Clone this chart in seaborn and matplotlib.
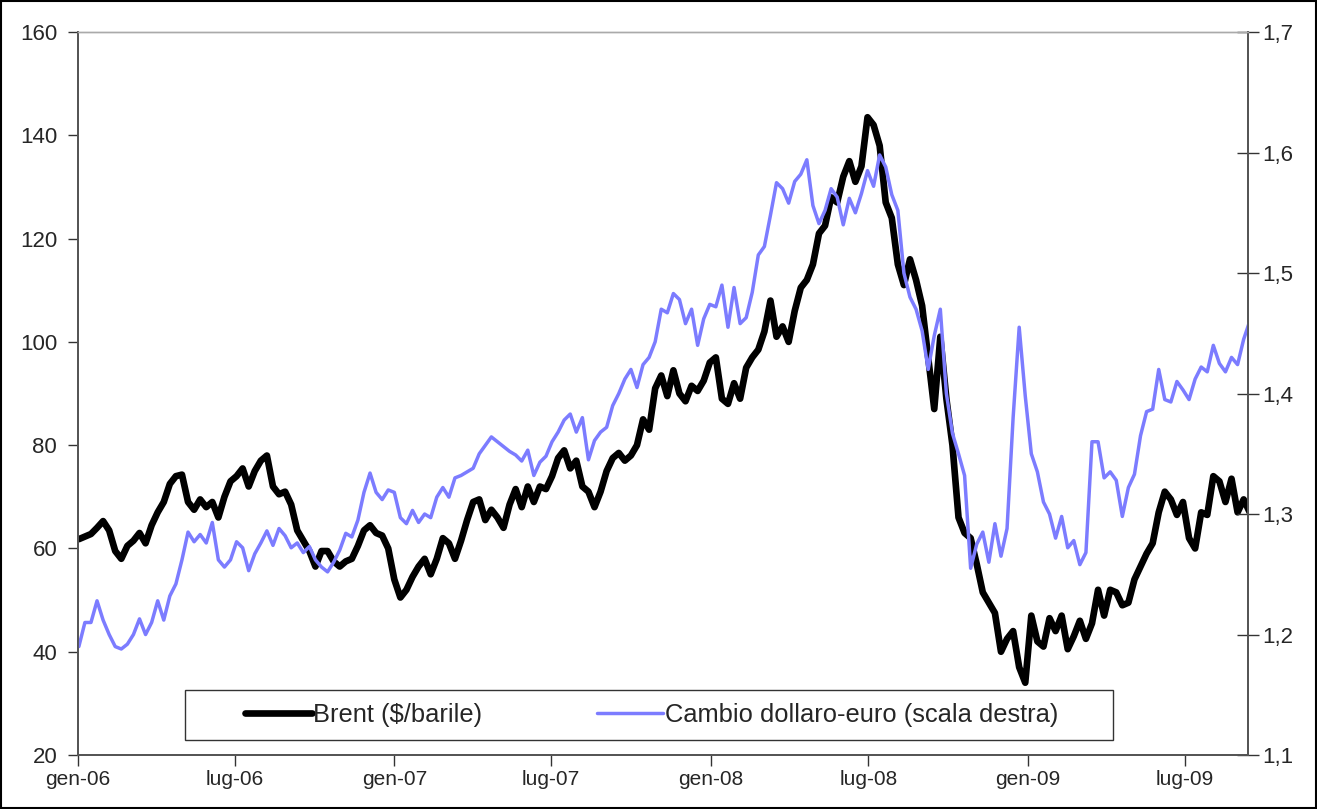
import pandas as pd
import matplotlib
matplotlib.use("Agg")
import matplotlib.pyplot as plt
import seaborn as sns
from matplotlib.patches import Rectangle

# weekly readings, first week starting 2 Jan 2006
brent = [61.8, 62.3, 62.8, 64.0, 65.3, 63.5, 59.5, 58.0, 60.5, 61.5,
         63.0, 61.0, 64.5, 67.0, 69.0, 72.5, 74.0, 74.3, 69.0, 67.5,
         69.5, 68.0, 69.0, 66.0, 70.0, 73.0, 74.0, 75.5, 72.0, 75.0,
         77.0, 78.0, 72.0, 70.5, 71.0, 68.5, 63.5, 61.5, 59.5, 56.5,
         59.5, 59.5, 57.5, 56.5, 57.5, 58.0, 60.5, 63.5, 64.5, 63.0,
         62.5, 60.0, 54.0, 50.5, 52.0, 54.5, 56.5, 58.0, 55.0, 58.0,
         62.0, 61.0, 58.0, 61.5, 65.5, 69.0, 69.5, 65.5, 67.5, 66.0,
         64.0, 68.5, 71.5, 68.0, 72.0, 69.0, 72.0, 71.5, 74.0, 77.5,
         79.0, 75.5, 77.0, 72.0, 71.0, 68.0, 71.0, 75.0, 77.5, 78.5,
         77.0, 78.0, 80.0, 85.0, 83.0, 91.0, 93.5, 89.5, 94.5, 90.0,
         88.5, 91.5, 90.5, 92.5, 96.0, 97.0, 89.0, 88.0, 92.0, 89.0,
         95.0, 97.0, 98.5, 102.0, 108.0, 101.0, 103.0, 100.0, 106.0, 110.5,
         112.0, 115.0, 121.0, 122.5, 128.0, 127.0, 132.0, 135.0, 131.0, 134.0,
         143.5, 142.0, 138.0, 127.0, 124.0, 115.0, 111.0, 116.0, 112.0, 107.0,
         97.0, 87.0, 101.0, 89.0, 80.0, 66.0, 63.0, 62.0, 57.0, 51.5,
         49.5, 47.5, 40.0, 42.5, 44.0, 37.0, 34.0, 47.0, 42.0, 41.0,
         46.5, 44.0, 47.0, 40.5, 43.0, 46.0, 42.5, 45.5, 52.0, 47.0,
         52.0, 51.5, 49.0, 49.5, 54.0, 56.5, 59.0, 61.0, 67.0, 71.0,
         69.5, 66.5, 69.0, 62.0, 60.0, 67.0, 66.5, 74.0, 73.0, 69.0,
         73.5, 67.0, 69.5, 67.0]

cambio = [1.190, 1.210, 1.210, 1.228, 1.212, 1.200, 1.190, 1.188, 1.192, 1.200,
          1.213, 1.200, 1.210, 1.228, 1.212, 1.232, 1.242, 1.262, 1.285, 1.277,
          1.283, 1.276, 1.293, 1.262, 1.256, 1.262, 1.277, 1.272, 1.253, 1.267,
          1.276, 1.286, 1.274, 1.288, 1.282, 1.272, 1.276, 1.268, 1.273, 1.262,
          1.256, 1.252, 1.260, 1.270, 1.284, 1.281, 1.295, 1.318, 1.334, 1.318,
          1.312, 1.320, 1.318, 1.297, 1.292, 1.303, 1.293, 1.300, 1.297, 1.314,
          1.322, 1.314, 1.330, 1.332, 1.335, 1.338, 1.350, 1.357, 1.364, 1.360,
          1.356, 1.352, 1.349, 1.344, 1.353, 1.332, 1.343, 1.348, 1.360, 1.368,
          1.378, 1.383, 1.368, 1.380, 1.345, 1.361, 1.368, 1.372, 1.390, 1.400,
          1.412, 1.420, 1.405, 1.424, 1.430, 1.443, 1.470, 1.467, 1.483, 1.478,
          1.458, 1.470, 1.440, 1.462, 1.474, 1.472, 1.490, 1.455, 1.488, 1.458,
          1.463, 1.484, 1.515, 1.522, 1.548, 1.575, 1.570, 1.558, 1.576, 1.582,
          1.594, 1.556, 1.541, 1.552, 1.570, 1.563, 1.540, 1.562, 1.550, 1.566,
          1.585, 1.572, 1.598, 1.588, 1.565, 1.552, 1.500, 1.480, 1.470, 1.452,
          1.420, 1.448, 1.470, 1.400, 1.367, 1.350, 1.332, 1.255, 1.275, 1.285,
          1.260, 1.292, 1.265, 1.288, 1.380, 1.455, 1.398, 1.350, 1.335, 1.310,
          1.300, 1.280, 1.298, 1.272, 1.278, 1.258, 1.268, 1.360, 1.360, 1.330,
          1.335, 1.328, 1.298, 1.322, 1.333, 1.365, 1.385, 1.387, 1.420, 1.395,
          1.393, 1.410, 1.403, 1.395, 1.412, 1.422, 1.418, 1.440, 1.425, 1.418,
          1.430, 1.424, 1.445, 1.460]

tick_dates = ["2006-01-01", "2006-07-01", "2007-01-01", "2007-07-01",
              "2008-01-01", "2008-07-01", "2009-01-01", "2009-07-01"]
tick_labels = ["gen-06", "lug-06", "gen-07", "lug-07",
               "gen-08", "lug-08", "gen-09", "lug-09"]
left_ticks = [20, 40, 60, 80, 100, 120, 140, 160]
right_ticks = [1.1, 1.2, 1.3, 1.4, 1.5, 1.6, 1.7]
right_labels = ["1,1", "1,2", "1,3", "1,4", "1,5", "1,6", "1,7"]

df = pd.DataFrame({
    "data": pd.date_range("2006-01-02", periods=len(brent), freq="7D"),
    "brent": brent,
    "cambio": cambio,
})

sns.set_theme(style="white")
plt.rcParams["font.family"] = ["Liberation Sans", "DejaVu Sans"]

fig = plt.figure(figsize=(13.17, 8.09), dpi=100)
ax = fig.add_axes([0.0592, 0.0667, 0.8884, 0.8937])
ax2 = ax.twinx()

black = "#000000"
blue = "#7c7cff"

sns.lineplot(data=df, x="data", y="brent", ax=ax, color=black, linewidth=4.8,
             label="Brent ($/barile)", legend=False)
sns.lineplot(data=df, x="data", y="cambio", ax=ax2, color=blue, linewidth=2.5,
             label="Cambio dollaro-euro (scala destra)", legend=False)

ax.set_xlim(pd.Timestamp("2006-01-01"), pd.Timestamp("2006-01-01") + pd.Timedelta(days=1350))
ax.set_ylim(20, 160)
ax2.set_ylim(1.1, 1.7)

ax.set_xticks(pd.to_datetime(tick_dates))
ax.set_xticklabels(tick_labels)
ax.set_yticks(left_ticks)
ax.set_yticklabels([str(v) for v in left_ticks])
ax2.set_yticks(right_ticks)
ax2.set_yticklabels(right_labels)

ax.set_xlabel("")
ax.set_ylabel("")
ax2.set_ylabel("")

ax.tick_params(axis="x", direction="out", length=8, width=1, color="#333333",
               labelsize=15, pad=3, bottom=True)
ax.tick_params(axis="y", direction="out", length=7, width=1, color="#333333",
               labelsize=16, pad=8, left=True)
ax2.tick_params(axis="y", direction="inout", length=16, width=1, color="#333333",
                labelsize=16, pad=2, right=True)

for a in (ax, ax2):
    for side in ["left", "right", "bottom"]:
        a.spines[side].set_color("#555555")
        a.spines[side].set_linewidth(1.3)
    a.spines["top"].set_color("#aaaaaa")
    a.spines["top"].set_linewidth(1.0)
    a.grid(False)

# legend box drawn separately so its padding matches the original
box = (0.0915, 0.0207, 0.7935, 0.0692)
ax2.add_patch(Rectangle(box[:2], box[2], box[3], transform=ax2.transAxes,
                        facecolor="white", edgecolor="#333333", linewidth=1.0, zorder=5))

h1, l1 = ax.get_legend_handles_labels()
h2, l2 = ax2.get_legend_handles_labels()
leg = ax2.legend(h1 + h2, l1 + l2, ncol=2, loc="center",
                 bbox_to_anchor=(box[0] + box[2] / 2 + 0.002, box[1] + box[3] / 2),
                 fontsize=18.4, handlelength=2.6, handletextpad=0.05,
                 columnspacing=4.5, borderpad=0.2, frameon=False)
leg.set_zorder(6)

fig.patches.append(Rectangle((0.001, 0.001), 0.998, 0.998, transform=fig.transFigure,
                             fill=False, edgecolor="black", linewidth=1.5))

fig.savefig("out.png", dpi=100)
